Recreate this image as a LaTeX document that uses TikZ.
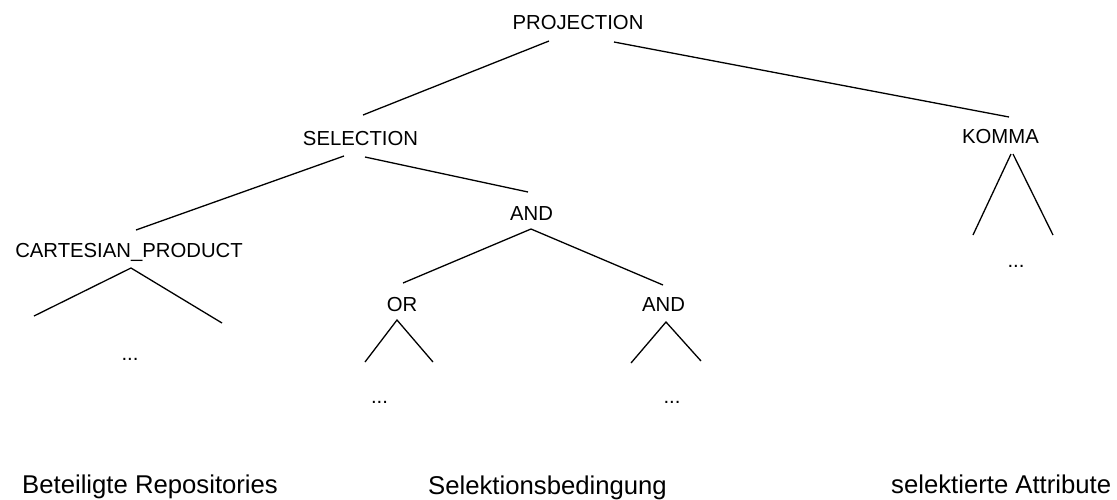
\documentclass[tikz,border=0pt]{standalone}
\usepackage{fontspec}
\setmainfont{Liberation Sans}
\begin{document}
\begin{tikzpicture}[x=1pt,y=-1pt,
  lbl/.style={inner sep=0pt,anchor=base,font=\fontsize{20.3}{24}\selectfont},
  dotsnode/.style={inner sep=0pt,anchor=base,font=\fontsize{20.3}{24}\selectfont},
  captext/.style={inner sep=0pt,anchor=base west,font=\fontsize{25.7}{30}\selectfont},
  treeline/.style={line width=1.3pt,line cap=butt}]
\fill[white] (0,0) rectangle (1117,499);
\useasboundingbox (0,0) rectangle (1117,499);

% operator nodes
\node[lbl] (proj)  at (578,29)    {PROJECTION};
\node[lbl] (sel)   at (360.5,145) {SELECTION};
\node[lbl] (komma) at (1000.5,143){KOMMA};
\node[lbl] (cp)    at (129,257)   {CARTESIAN\_PRODUCT};
\node[lbl] (and1)  at (531.5,220) {AND};
\node[lbl] (or)    at (402,311)   {OR};
\node[lbl] (and2)  at (663.5,311) {AND};

% elided subtrees
\node[dotsnode] (cpdots)  at (130,360)  {...};
\node[dotsnode] (ordots)  at (379.5,403){...};
\node[dotsnode] (anddots) at (672,403)  {...};
\node[dotsnode] (kdots)   at (1016,267) {...};

% free ends of the subtree stubs
\coordinate (cpL) at (34,316);
\coordinate (cpR) at (222,323);
\coordinate (orL) at (365,362);
\coordinate (orR) at (433,362);
\coordinate (anL) at (631,363);
\coordinate (anR) at (701,361);
\coordinate (kL)  at (973,235);
\coordinate (kR)  at (1053,235);

% tree edges
\draw[treeline] ([shift={(-29,12)}]proj.base) -- ([shift={(2.5,-30)}]sel.base);
\draw[treeline] ([shift={(36,13)}]proj.base)  -- ([shift={(8.5,-26)}]komma.base);
\draw[treeline] ([shift={(-16.5,11)}]sel.base) -- ([shift={(7,-27)}]cp.base);
\draw[treeline] ([shift={(4.5,12)}]sel.base)   -- ([shift={(-3.5,-28)}]and1.base);
\draw[treeline] ([shift={(-0.5,9)}]and1.base) -- ([shift={(1,-28)}]or.base);
\draw[treeline] ([shift={(-0.5,9)}]and1.base) -- ([shift={(-0.5,-26)}]and2.base);

% subtree stubs
\draw[treeline] (cpL) -- ([shift={(2,11)}]cp.base) -- (cpR);
\draw[treeline] (orL) -- ([shift={(-5,9)}]or.base) -- (orR);
\draw[treeline] (anL) -- ([shift={(2.5,11)}]and2.base) -- (anR);
\draw[treeline] (kL) -- ([shift={(10.5,11)}]komma.base);
\draw[treeline] ([shift={(12.5,11)}]komma.base) -- (kR);

% captions
\node[captext] (capL) at (22,493.5)  {Beteiligte Repositories};
\node[captext] (capM) at (428,494)   {Selektionsbedingung};
\node[captext] (capR) at (891,493)   {selektierte Attribute};
\end{tikzpicture}
\end{document}
